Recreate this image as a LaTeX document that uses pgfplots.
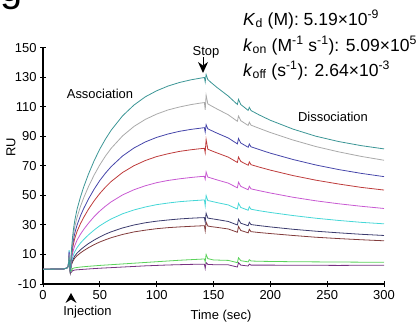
\documentclass[border=0pt]{standalone}
\usepackage{fontspec}
\setmainfont{Liberation Sans}
\usepackage{pgfplots}
\pgfplotsset{compat=1.18}
\definecolor{cteal}{RGB}{60,150,150}
\definecolor{cgrey}{RGB}{170,170,170}
\definecolor{cblue}{RGB}{70,70,170}
\definecolor{cred}{RGB}{190,60,60}
\definecolor{cmag}{RGB}{200,90,210}
\definecolor{ccyan}{RGB}{70,215,215}
\definecolor{cnavy}{RGB}{60,60,110}
\definecolor{cbrown}{RGB}{130,60,60}
\definecolor{cgreen}{RGB}{90,210,90}
\definecolor{cpurple}{RGB}{120,50,130}
\begin{document}
\begin{tikzpicture}[x=1bp,y=1bp]
\useasboundingbox (0,0) rectangle (420,323);
\begin{axis}[
  at={(43bp,39bp)}, anchor=south west,
  scale only axis, width=341bp, height=236bp,
  xmin=0, xmax=300, ymin=-10, ymax=150,
  axis lines=left, axis line style={-, line width=1.2bp, black},
  xtick={0,50,...,300}, ytick={-10,10,...,150},
  tick align=center, major tick length=6bp,
  tick style={line width=1bp, black},
  tick label style={font=\fontsize{13}{15}\selectfont},
  /pgf/number format/assume math mode=true,
  every axis plot/.append style={line width=0.8bp},
]
\addplot[cpurple] coordinates {(0,0) (10,0.1) (18,0.2) (21,0.8) (22.2,2) (23,3) (24,-2.5) (25,-2) (26,-1) (28,-0.5) (33,-0.2) (40,0.2) (50,0.7) (60,1.1) (70,1.5) (80,1.9) (90,2.3) (100,2.6) (110,2.9) (120,3.1) (130,3.3) (138,3.4) (142,3.4) (142.7,0.5) (143.5,4.5) (145,3.3) (150,3.1) (163,3.0) (171,1.5) (172,4.5) (174,2.8) (180.5,2.2) (181.5,3.5) (183,2.8) (190,2.8) (200,2.8) (220,2.7) (240,2.7) (260,2.6) (280,2.7) (300,2.7)};
\addplot[cgreen] coordinates {(0,0) (10,0.1) (18,0.2) (21,0.8) (22.2,2) (23,4) (24,-2) (25,-1) (26,0.5) (28,1) (33,1.5) (40,2) (50,2.6) (60,3.1) (70,3.6) (80,4.1) (90,4.6) (100,5.1) (110,5.6) (120,6.1) (130,6.5) (138,6.8) (142,7.0) (142.7,5) (143.5,10) (145,7.2) (150,6.3) (163,6.0) (171,4.5) (172,7.8) (174,5.8) (180.5,5.0) (181.5,6.5) (183,5.6) (190,5.4) (200,5.3) (220,5.1) (240,5.0) (260,4.9) (280,4.8) (300,4.7)};
\addplot[cbrown] coordinates {(0,0) (10,0.1) (18,0.2) (21,0.8) (22.2,2) (23,6) (24,-2) (25,2.9) (26,5.0) (27,6.4) (28,7.6) (30,9.2) (33,11.1) (36,12.7) (40,14.6) (45,16.7) (50,18.5) (55,20.0) (60,21.4) (70,23.6) (80,25.3) (90,26.5) (100,27.5) (110,28.2) (120,28.7) (130,29.1) (138,29.4) (142,29.5) (142.7,26) (143.5,32) (145,29.3) (148,28.9) (153,28.4) (163,27.3) (171,25.1) (172,29.0) (174,26.3) (180.5,24.7) (181.5,27.1) (183,25.5) (190,24.9) (200,24.2) (220,22.9) (240,21.7) (260,20.8) (280,20.0) (300,19.3)};
\addplot[cnavy] coordinates {(0,0) (10,0.1) (18,0.2) (21,0.8) (22.2,2) (23,7) (24,-2) (25,3.5) (26,5.9) (27,7.6) (28,9.0) (30,11.0) (33,13.2) (36,15.1) (40,17.4) (45,19.8) (50,21.9) (55,23.8) (60,25.4) (70,28.0) (80,30.0) (90,31.5) (100,32.6) (110,33.4) (120,34.1) (130,34.6) (138,34.9) (142,35.0) (142.7,32) (143.5,38) (145,34.7) (148,34.3) (153,33.7) (163,32.4) (171,30.0) (172,33.9) (174,31.2) (180.5,29.5) (181.5,31.9) (183,30.3) (190,29.6) (200,28.7) (220,27.1) (240,25.8) (260,24.7) (280,23.7) (300,22.9)};
\addplot[ccyan] coordinates {(0,0) (10,0.1) (18,0.2) (21,0.8) (22.2,2) (23,13) (24,-2) (25,4.7) (26,7.9) (27,10.2) (28,12.0) (30,14.7) (33,17.8) (36,20.3) (40,23.3) (45,26.6) (50,29.5) (55,31.9) (60,34.1) (70,37.6) (80,40.2) (90,42.2) (100,43.8) (110,44.9) (120,45.8) (130,46.4) (138,46.8) (142,47.0) (142.7,43) (143.5,50) (145,46.6) (148,46.1) (153,45.2) (163,43.6) (171,40.8) (172,44.7) (174,41.9) (180.5,40.0) (181.5,42.4) (183,40.7) (190,39.7) (200,38.5) (220,36.4) (240,34.6) (260,33.1) (280,31.8) (300,30.8)};
\addplot[cmag] coordinates {(0,0) (10,0.1) (18,0.2) (21,0.8) (22.2,2) (23,11) (24,-2) (25,6.3) (26,10.6) (27,13.7) (28,16.1) (30,19.8) (33,23.8) (36,27.2) (40,31.2) (45,35.7) (50,39.5) (55,42.8) (60,45.7) (70,50.4) (80,53.9) (90,56.6) (100,58.7) (110,60.2) (120,61.3) (130,62.2) (138,62.8) (142,63.0) (142.7,61) (143.5,66) (145,62.5) (148,61.8) (153,60.6) (163,58.4) (171,55.2) (172,59.0) (174,56.2) (180.5,53.9) (181.5,56.3) (183,54.5) (190,53.3) (200,51.7) (220,48.8) (240,46.4) (260,44.4) (280,42.7) (300,41.2)};
\addplot[cred] coordinates {(0,0) (10,0.1) (18,0.2) (21,0.8) (22.2,2) (23,9) (24,-2) (25,8.2) (26,13.8) (27,17.9) (28,21.0) (30,25.7) (33,31.0) (36,35.4) (40,40.7) (45,46.4) (50,51.4) (55,55.7) (60,59.5) (70,65.6) (80,70.2) (90,73.7) (100,76.4) (110,78.3) (120,79.9) (130,81.0) (138,81.7) (142,82.0) (142.7,79) (143.5,88) (145,81.4) (148,80.4) (153,78.9) (163,76.0) (171,72.4) (172,76.1) (174,73.1) (180.5,70.5) (181.5,72.8) (183,70.9) (190,69.3) (200,67.2) (220,63.5) (240,60.4) (260,57.8) (280,55.5) (300,53.7)};
\addplot[cblue] coordinates {(0,0) (10,0.1) (18,0.2) (21,0.8) (22.2,2) (23,12) (24,-2) (25,9.5) (26,16.1) (27,20.9) (28,24.6) (30,30.1) (33,36.3) (36,41.5) (40,47.6) (45,54.3) (50,60.2) (55,65.2) (60,69.6) (70,76.8) (80,82.2) (90,86.3) (100,89.4) (110,91.7) (120,93.5) (130,94.8) (138,95.6) (142,96.0) (142.7,93) (143.5,98) (145,95.2) (148,94.1) (153,92.3) (163,89.0) (171,85.0) (172,88.7) (174,85.6) (180.5,82.7) (181.5,84.9) (183,83.0) (190,81.2) (200,78.7) (220,74.4) (240,70.7) (260,67.6) (280,65.0) (300,62.8)};
\addplot[cgrey] coordinates {(0,0) (10,0.1) (18,0.2) (21,0.8) (22.2,2) (23,10) (24,-2) (25,11.2) (26,19.0) (27,24.6) (28,29.0) (30,35.4) (33,42.7) (36,48.8) (40,56.0) (45,63.9) (50,70.8) (55,76.8) (60,82.0) (70,90.4) (80,96.8) (90,101.6) (100,105.2) (110,108.0) (120,110.0) (130,111.6) (138,112.6) (142,113.0) (142.7,108) (143.5,118) (145,112.1) (148,110.8) (153,108.7) (163,104.7) (171,100.3) (172,103.9) (174,100.7) (180.5,97.5) (181.5,99.7) (183,97.7) (190,95.6) (200,92.7) (220,87.6) (240,83.2) (260,79.6) (280,76.5) (300,73.9)};
\addplot[cteal] coordinates {(0,0) (10,0.1) (18,0.2) (21,0.8) (22.2,2) (23,8) (24,-2) (25,12.9) (26,21.9) (27,28.3) (28,33.3) (30,40.8) (33,49.1) (36,56.2) (40,64.5) (45,73.6) (50,81.5) (55,88.3) (60,94.3) (70,104.0) (80,111.3) (90,116.9) (100,121.0) (110,124.2) (120,126.6) (130,128.4) (138,129.5) (142,130.0) (142.7,127) (143.5,132) (145,128.6) (148,126.5) (153,123.3) (163,117.4) (171,111.7) (172,115.2) (174,111.7) (180.5,107.7) (181.5,109.8) (183,107.6) (190,104.7) (200,101.0) (220,95.0) (240,90.2) (260,86.6) (280,83.8) (300,81.6)};
\end{axis}
% panel letter (cut off at top, as in the source figure)
\node[anchor=base west, inner sep=0, font=\fontsize{40}{40}\selectfont] at (0,322) {g};
% axis titles
\node[rotate=90, font=\fontsize{13}{15}\selectfont] at (11,176) {RU};
\node[font=\fontsize{13}{15}\selectfont] at (221,7) {Time (sec)};
\node[font=\fontsize{13}{15}\selectfont] at (87.5,11) {Injection};
\fill (71,30) -- (76.5,20) -- (71,23.5) -- (65.5,20) -- cycle;
% annotations
\node[font=\fontsize{13}{15}\selectfont] at (100,229) {Association};
\node[font=\fontsize{13}{15}\selectfont] at (333,206) {Dissociation};
\node[font=\fontsize{13}{15}\selectfont] at (206,271) {Stop};
\draw[line width=1bp] (203,266) -- (203,258);
\fill (203,250) -- (208,261) -- (203,257.5) -- (198,261) -- cycle;
\node[anchor=base west, inner sep=0, font=\fontsize{17.6}{20}\selectfont] at (243,298) {\textit{K}\textsubscript{d} (M): 5.19×10\textsuperscript{-9}};
\node[anchor=base west, inner sep=0, font=\fontsize{17.6}{20}\selectfont] at (243,272) {\textit{k}\textsubscript{on} (M\textsuperscript{-1} s\textsuperscript{-1}): 5.09×10\textsuperscript{5}};
\node[anchor=base west, inner sep=0, font=\fontsize{17.6}{20}\selectfont] at (243,247) {\textit{k}\textsubscript{off} (s\textsuperscript{-1}): 2.64×10\textsuperscript{-3}};
\end{tikzpicture}
\end{document}
